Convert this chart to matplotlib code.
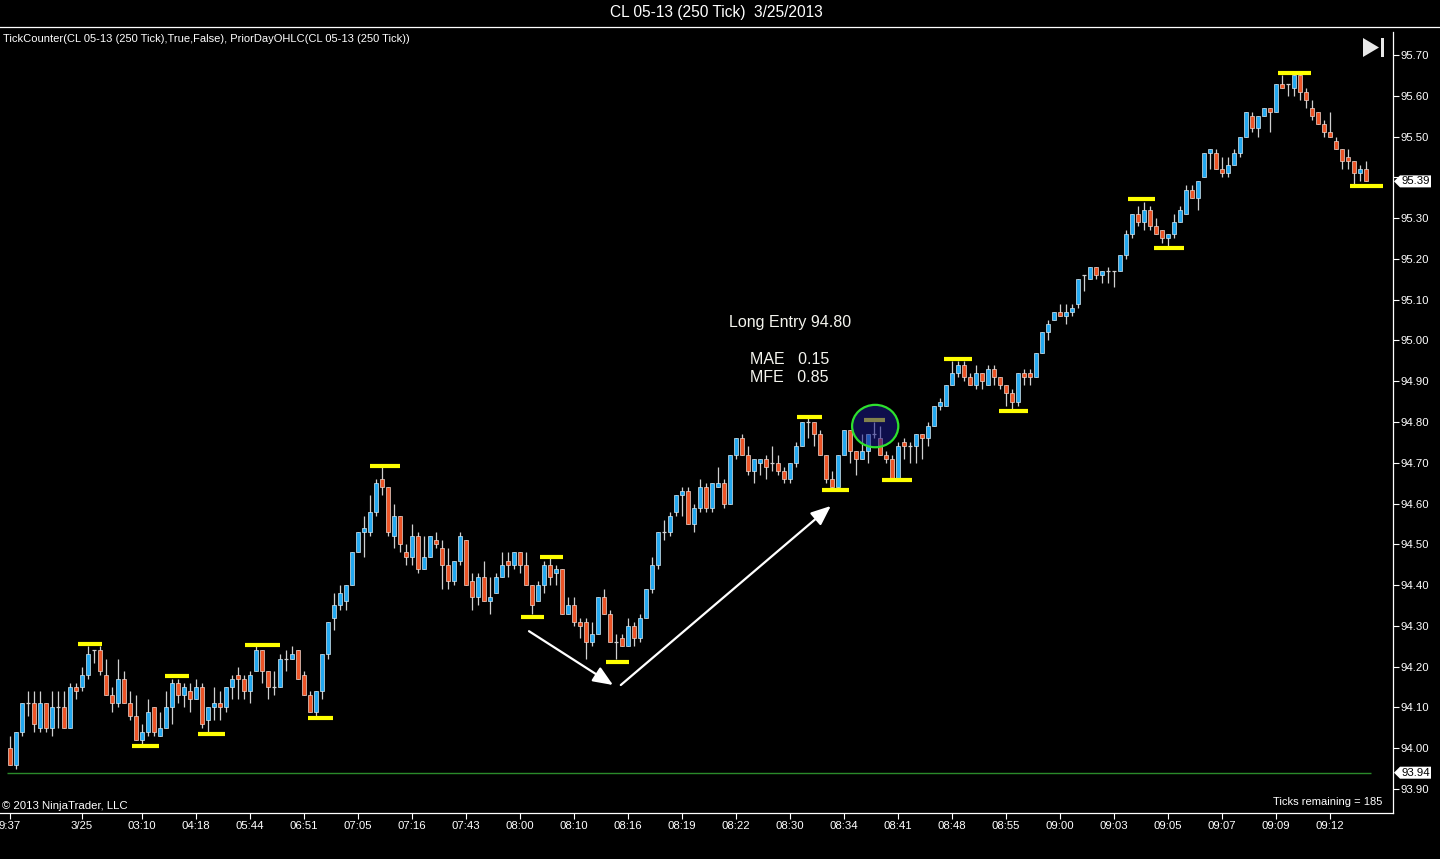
import numpy as np
import matplotlib
matplotlib.use("Agg")
import matplotlib.pyplot as plt
from matplotlib.patches import Ellipse, Polygon
from matplotlib.lines import Line2D

plt.rcParams['font.family'] = ['Liberation Sans', 'DejaVu Sans']

# 250 tick bars, CL 05-13
opens = [
    94.00, 93.96, 94.04, 94.11, 94.11, 94.05, 94.11, 94.05, 94.10, 94.10,
    94.05, 94.15, 94.15, 94.18, 94.24, 94.24, 94.18, 94.13, 94.11, 94.17,
    94.11, 94.08, 94.02, 94.04, 94.10, 94.03, 94.05, 94.10, 94.16, 94.13,
    94.14, 94.12, 94.15, 94.07, 94.10, 94.11, 94.10, 94.15, 94.18, 94.17,
    94.14, 94.19, 94.24, 94.19, 94.15, 94.15, 94.22, 94.22, 94.24, 94.18,
    94.13, 94.09, 94.14, 94.23, 94.32, 94.35, 94.36, 94.40, 94.48, 94.53,
    94.53, 94.58, 94.66, 94.64, 94.52, 94.57, 94.48, 94.47, 94.52, 94.44,
    94.47, 94.51, 94.49, 94.45, 94.41, 94.46, 94.51, 94.41, 94.37, 94.42,
    94.36, 94.38, 94.42, 94.46, 94.45, 94.48, 94.45, 94.40, 94.36, 94.40,
    94.45, 94.43, 94.44, 94.33, 94.35, 94.31, 94.31, 94.26, 94.28, 94.37,
    94.33, 94.26, 94.27, 94.25, 94.30, 94.27, 94.32, 94.39, 94.45, 94.53,
    94.53, 94.58, 94.62, 94.63, 94.55, 94.59, 94.64, 94.59, 94.64, 94.65,
    94.60, 94.72, 94.76, 94.72, 94.68, 94.70, 94.71, 94.70, 94.70, 94.68,
    94.66, 94.70, 94.74, 94.80, 94.80, 94.77, 94.72, 94.66, 94.64, 94.72,
    94.78, 94.73, 94.71, 94.73, 94.77, 94.76, 94.72, 94.71, 94.66, 94.75,
    94.74, 94.74, 94.77, 94.76, 94.79, 94.84, 94.84, 94.89, 94.92, 94.94,
    94.91, 94.89, 94.92, 94.89, 94.93, 94.91, 94.89, 94.87, 94.85, 94.92,
    94.92, 94.91, 94.97, 95.02, 95.05, 95.07, 95.06, 95.07, 95.09, 95.16,
    95.15, 95.18, 95.16, 95.17, 95.17, 95.17, 95.21, 95.26, 95.31, 95.29,
    95.32, 95.28, 95.27, 95.25, 95.26, 95.29, 95.31, 95.37, 95.35, 95.40,
    95.46, 95.46, 95.42, 95.41, 95.43, 95.46, 95.50, 95.55, 95.52, 95.55,
    95.57, 95.56, 95.63, 95.63, 95.62, 95.65, 95.61, 95.57, 95.56, 95.53,
    95.51, 95.49, 95.47, 95.45, 95.44, 95.41, 95.42,
]
highs = [
    94.03, 94.04, 94.11, 94.14, 94.14, 94.14, 94.11, 94.14, 94.14, 94.14,
    94.16, 94.16, 94.20, 94.25, 94.24, 94.25, 94.22, 94.15, 94.22, 94.19,
    94.14, 94.13, 94.06, 94.12, 94.10, 94.09, 94.14, 94.17, 94.17, 94.16,
    94.16, 94.17, 94.16, 94.10, 94.15, 94.14, 94.15, 94.18, 94.20, 94.18,
    94.19, 94.25, 94.24, 94.19, 94.19, 94.23, 94.24, 94.25, 94.24, 94.19,
    94.14, 94.14, 94.23, 94.31, 94.38, 94.40, 94.40, 94.48, 94.53, 94.57,
    94.62, 94.66, 94.69, 94.64, 94.60, 94.57, 94.50, 94.55, 94.53, 94.52,
    94.52, 94.53, 94.51, 94.49, 94.46, 94.53, 94.51, 94.43, 94.43, 94.46,
    94.42, 94.43, 94.48, 94.48, 94.48, 94.48, 94.48, 94.40, 94.41, 94.46,
    94.47, 94.45, 94.44, 94.37, 94.37, 94.32, 94.32, 94.31, 94.37, 94.39,
    94.34, 94.28, 94.28, 94.32, 94.31, 94.33, 94.39, 94.47, 94.53, 94.56,
    94.58, 94.62, 94.64, 94.64, 94.60, 94.66, 94.65, 94.65, 94.69, 94.66,
    94.72, 94.76, 94.77, 94.74, 94.71, 94.71, 94.72, 94.74, 94.72, 94.69,
    94.70, 94.75, 94.80, 94.81, 94.80, 94.78, 94.72, 94.68, 94.72, 94.78,
    94.78, 94.73, 94.77, 94.77, 94.80, 94.79, 94.73, 94.72, 94.75, 94.76,
    94.75, 94.77, 94.77, 94.80, 94.84, 94.86, 94.89, 94.95, 94.95, 94.95,
    94.92, 94.94, 94.92, 94.94, 94.94, 94.91, 94.89, 94.88, 94.92, 94.93,
    94.93, 94.97, 95.02, 95.05, 95.07, 95.09, 95.09, 95.09, 95.15, 95.16,
    95.18, 95.18, 95.17, 95.18, 95.17, 95.21, 95.27, 95.31, 95.33, 95.34,
    95.33, 95.30, 95.27, 95.26, 95.31, 95.33, 95.38, 95.38, 95.39, 95.46,
    95.47, 95.47, 95.45, 95.45, 95.47, 95.50, 95.56, 95.56, 95.55, 95.57,
    95.57, 95.63, 95.65, 95.63, 95.65, 95.65, 95.62, 95.59, 95.56, 95.54,
    95.56, 95.50, 95.47, 95.47, 95.44, 95.43, 95.44,
]
lows = [
    93.96, 93.95, 94.03, 94.08, 94.04, 94.04, 94.04, 94.03, 94.05, 94.05,
    94.05, 94.12, 94.14, 94.17, 94.21, 94.18, 94.13, 94.09, 94.10, 94.11,
    94.07, 94.02, 94.01, 94.03, 94.03, 94.03, 94.05, 94.06, 94.11, 94.10,
    94.09, 94.12, 94.05, 94.04, 94.07, 94.07, 94.09, 94.12, 94.12, 94.12,
    94.11, 94.19, 94.16, 94.12, 94.13, 94.15, 94.19, 94.22, 94.17, 94.13,
    94.09, 94.08, 94.12, 94.22, 94.29, 94.34, 94.34, 94.40, 94.48, 94.47,
    94.52, 94.57, 94.62, 94.52, 94.49, 94.48, 94.45, 94.45, 94.43, 94.44,
    94.47, 94.49, 94.39, 94.39, 94.40, 94.45, 94.40, 94.34, 94.35, 94.36,
    94.33, 94.38, 94.42, 94.42, 94.44, 94.43, 94.40, 94.33, 94.36, 94.38,
    94.40, 94.40, 94.33, 94.33, 94.30, 94.27, 94.22, 94.25, 94.28, 94.33,
    94.26, 94.22, 94.25, 94.25, 94.25, 94.26, 94.32, 94.38, 94.44, 94.51,
    94.52, 94.57, 94.57, 94.55, 94.53, 94.58, 94.58, 94.58, 94.64, 94.59,
    94.60, 94.71, 94.72, 94.67, 94.65, 94.67, 94.66, 94.68, 94.67, 94.65,
    94.65, 94.69, 94.74, 94.76, 94.74, 94.72, 94.65, 94.64, 94.64, 94.72,
    94.70, 94.67, 94.71, 94.70, 94.76, 94.72, 94.70, 94.66, 94.66, 94.71,
    94.70, 94.70, 94.71, 94.74, 94.79, 94.83, 94.84, 94.89, 94.91, 94.90,
    94.89, 94.88, 94.88, 94.89, 94.89, 94.88, 94.84, 94.83, 94.84, 94.89,
    94.89, 94.91, 94.97, 95.00, 95.05, 95.06, 95.04, 95.06, 95.08, 95.12,
    95.15, 95.15, 95.14, 95.14, 95.13, 95.17, 95.20, 95.25, 95.28, 95.27,
    95.27, 95.26, 95.24, 95.23, 95.25, 95.29, 95.31, 95.35, 95.32, 95.40,
    95.42, 95.42, 95.40, 95.40, 95.43, 95.45, 95.50, 95.51, 95.50, 95.55,
    95.51, 95.56, 95.62, 95.60, 95.60, 95.59, 95.57, 95.54, 95.53, 95.50,
    95.50, 95.47, 95.42, 95.42, 95.38, 95.39, 95.39,
]
closes = [
    93.96, 94.04, 94.11, 94.11, 94.06, 94.11, 94.05, 94.10, 94.10, 94.05,
    94.15, 94.14, 94.18, 94.23, 94.24, 94.19, 94.13, 94.11, 94.17, 94.11,
    94.08, 94.02, 94.04, 94.09, 94.04, 94.05, 94.10, 94.16, 94.13, 94.15,
    94.12, 94.15, 94.06, 94.10, 94.11, 94.10, 94.15, 94.17, 94.17, 94.14,
    94.18, 94.24, 94.19, 94.15, 94.15, 94.22, 94.22, 94.23, 94.17, 94.13,
    94.09, 94.14, 94.23, 94.31, 94.35, 94.38, 94.40, 94.48, 94.53, 94.54,
    94.58, 94.65, 94.64, 94.53, 94.57, 94.50, 94.47, 94.52, 94.44, 94.47,
    94.52, 94.50, 94.45, 94.41, 94.46, 94.52, 94.40, 94.37, 94.42, 94.36,
    94.37, 94.42, 94.45, 94.45, 94.48, 94.45, 94.40, 94.35, 94.40, 94.45,
    94.42, 94.44, 94.33, 94.35, 94.31, 94.30, 94.26, 94.28, 94.37, 94.33,
    94.26, 94.26, 94.25, 94.30, 94.27, 94.32, 94.39, 94.45, 94.53, 94.53,
    94.57, 94.62, 94.63, 94.55, 94.59, 94.64, 94.59, 94.65, 94.65, 94.60,
    94.72, 94.76, 94.72, 94.68, 94.71, 94.71, 94.69, 94.70, 94.68, 94.66,
    94.70, 94.74, 94.80, 94.80, 94.77, 94.72, 94.66, 94.64, 94.72, 94.78,
    94.73, 94.71, 94.73, 94.77, 94.77, 94.72, 94.71, 94.66, 94.74, 94.74,
    94.74, 94.77, 94.76, 94.79, 94.84, 94.85, 94.89, 94.92, 94.94, 94.91,
    94.89, 94.92, 94.90, 94.93, 94.91, 94.89, 94.87, 94.85, 94.92, 94.91,
    94.91, 94.97, 95.02, 95.04, 95.07, 95.06, 95.07, 95.08, 95.15, 95.16,
    95.18, 95.16, 95.17, 95.17, 95.17, 95.21, 95.26, 95.31, 95.29, 95.32,
    95.28, 95.26, 95.25, 95.26, 95.29, 95.32, 95.37, 95.35, 95.39, 95.46,
    95.47, 95.42, 95.41, 95.43, 95.46, 95.50, 95.56, 95.52, 95.55, 95.57,
    95.56, 95.63, 95.62, 95.63, 95.65, 95.61, 95.59, 95.55, 95.53, 95.51,
    95.50, 95.47, 95.44, 95.44, 95.41, 95.42, 95.39,
]

# time axis labels (bar index of each label)
tick_bars = [0, 12, 22, 31, 40, 49, 58, 67, 76, 85, 94, 103, 112, 121, 130,
             139, 148, 157, 166, 175, 184, 193, 202, 211, 220]
tick_labels = ['9:37', '3/25', '03:10', '04:18', '05:44', '06:51', '07:05',
               '07:16', '07:43', '08:00', '08:10', '08:16', '08:19', '08:22',
               '08:30', '08:34', '08:41', '08:48', '08:55', '09:00', '09:03',
               '09:05', '09:07', '09:09', '09:12']
price_ticks = [93.90 + 0.10 * k for k in range(19)]

# TickCounter swing markers: start bar, end bar, price
swing_x0 = [11.3, 20.3, 25.9, 31.3, 39.2, 49.6, 60.0, 85.1, 88.4, 99.4,
            131.1, 135.4, 142.4, 145.4, 155.6, 164.9, 186.4, 190.6, 211.4, 223.3]
swing_x1 = [15.4, 24.9, 29.9, 35.9, 45.0, 53.9, 65.0, 89.0, 92.1, 103.2,
            135.3, 139.9, 145.8, 150.4, 160.4, 169.7, 190.9, 195.6, 216.9, 228.9]
swing_y = [94.255, 94.005, 94.176, 94.034, 94.252, 94.073, 94.692, 94.321,
           94.468, 94.211, 94.811, 94.633, 94.805, 94.658, 94.954, 94.826,
           95.346, 95.226, 95.655, 95.379]

prior_day_level = 93.94
last_price = 95.39
entry_bar, entry_price = 144.2, 94.79

# hand drawn arrows: (bar, price) start -> end
arrow_from = [(86.5, 94.287), (101.8, 94.155)]
arrow_to = [(100.5, 94.155), (136.8, 94.594)]

W, H = 1440, 859
fig = plt.figure(figsize=(W / 100, H / 100), dpi=100, facecolor='black')
ax = fig.add_axes([0, 46 / H, 1393 / W, 786 / H])
ax.set_facecolor('black')

o, hi, lo, c = map(np.array, (opens, highs, lows, closes))
x = np.arange(len(c))
up = c > o + 1e-9
dn = c < o - 1e-9
flat = ~(up | dn)

wick_col = '#cfcfcf'
blue = '#22a8f0'
red = '#ec5426'
bw = 0.78

ax.hlines(prior_day_level, -0.5, 226.8, color='#2a8a2a', lw=1, zorder=1)
ax.vlines(x, lo, hi, color=wick_col, lw=0.9, zorder=2)
ax.bar(x[up], (c - o)[up], bottom=o[up], width=bw, color=blue,
       edgecolor='#d8e8f0', linewidth=0.5, zorder=3)
ax.bar(x[dn], (o - c)[dn], bottom=c[dn], width=bw, color=red,
       edgecolor='#f0d8d0', linewidth=0.5, zorder=3)
ax.hlines(o[flat], x[flat] - bw / 2, x[flat] + bw / 2, color=wick_col,
          lw=0.9, zorder=3)

ax.hlines(swing_y, swing_x0, swing_x1, color='#ffff00', lw=3,
          capstyle='butt', zorder=4)

ax.add_patch(Ellipse((entry_bar, entry_price), 7.7, 0.104,
                     facecolor=(0.1, 0.1, 0.55, 0.55), edgecolor='#2ee02e',
                     lw=1.6, zorder=5))

for (x0, y0), (x1, y1) in zip(arrow_from, arrow_to):
    ax.annotate('', xy=(x1, y1), xytext=(x0, y0),
                arrowprops=dict(arrowstyle='-|>,head_length=0.6,head_width=0.25',
                                color='white', lw=1.6, mutation_scale=20,
                                shrinkA=0, shrinkB=0), zorder=6)

ax.text(130, 95.043, 'Long Entry 94.80', color='#f4f4ee', fontsize=11.5,
        ha='center', va='center', zorder=7)
ax.text(123.4, 94.954, 'MAE   0.15', color='#f4f4ee', fontsize=11.5,
        ha='left', va='center', zorder=7)
ax.text(123.4, 94.908, 'MFE   0.85', color='#f4f4ee', fontsize=11.5,
        ha='left', va='center', zorder=7)

ax.set_xlim(-10 / 6, 1383 / 6)
ax.set_ylim(93.90 - 24 / 407.8, 93.90 + 762 / 407.8)

for s in ('left', 'top'):
    ax.spines[s].set_visible(False)
for s in ('right', 'bottom'):
    ax.spines[s].set_color('white')
    ax.spines[s].set_linewidth(0.9)
ax.spines['right'].set_bounds(93.90 - 24 / 407.8, 93.90 + 757 / 407.8)

ax.yaxis.tick_right()
ax.set_yticks(price_ticks)
# the last-price tag hides the label right under it
ax.set_yticklabels(['' if abs(p - last_price) < 0.03 else f'{p:.2f}'
                    for p in price_ticks])
ax.set_xticks(tick_bars)
ax.set_xticklabels(tick_labels)
ax.tick_params(axis='both', colors='white', labelcolor='white', labelsize=8.2,
               length=4, width=0.8)
ax.tick_params(axis='y', pad=1.5)
ax.tick_params(axis='x', pad=2)

# price tags on the axis
def price_tag(price, label):
    tr = ax.get_yaxis_transform()
    dy = 6 / 407.8
    pts = [(1394 / 1393, price), (1400 / 1393, price + dy), (1431 / 1393, price + dy),
           (1431 / 1393, price - dy), (1400 / 1393, price - dy)]
    ax.add_patch(Polygon(pts, closed=True, facecolor='white', edgecolor='none',
                         transform=tr, clip_on=False, zorder=8))
    ax.text(1402 / 1393, price, label, transform=tr, color='black', fontsize=8.2,
            ha='left', va='center', clip_on=False, zorder=9)

price_tag(prior_day_level, '93.94')
price_tag(last_price, f'{last_price:.2f}')

def fx(px):
    return px / W

def fy(py):
    return 1 - py / H

fig.add_artist(Line2D([0, 1], [fy(27), fy(27)], color='white', lw=0.9))

# "go to last bar" icon
fig.add_artist(Polygon([(fx(1363), fy(38)), (fx(1379), fy(47.5)), (fx(1363), fy(57))],
                       closed=True, facecolor='#e8e8e8', edgecolor='none'))
fig.add_artist(Polygon([(fx(1380.5), fy(38)), (fx(1384), fy(38)), (fx(1384), fy(57)),
                        (fx(1380.5), fy(57))], closed=True, facecolor='#e8e8e8',
                       edgecolor='none'))

fig.text(fx(716), fy(13), 'CL 05-13 (250 Tick)  3/25/2013', color='white',
         fontsize=11.2, ha='center', va='center')
fig.text(fx(3), fy(38.5), 'TickCounter(CL 05-13 (250 Tick),True,False), '
         'PriorDayOHLC(CL 05-13 (250 Tick))', color='white', fontsize=8,
         ha='left', va='center')
fig.text(fx(2), fy(806), '© 2013 NinjaTrader, LLC', color='white', fontsize=8.2,
         ha='left', va='center')
fig.text(fx(1382), fy(802), 'Ticks remaining = 185', color='white', fontsize=8,
         ha='right', va='center')

fig.savefig('out.png', dpi=100, facecolor='black')
